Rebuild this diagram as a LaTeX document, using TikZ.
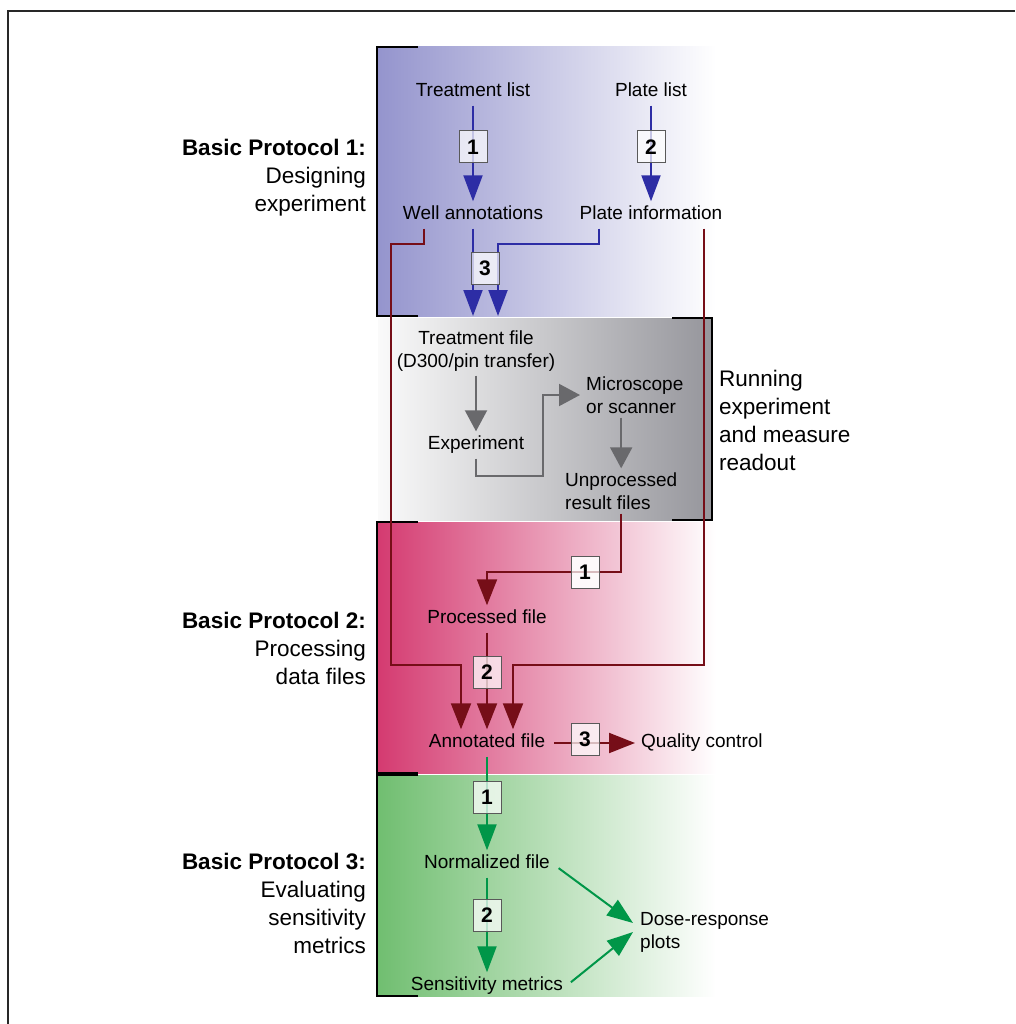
\documentclass[tikz,border=0pt]{standalone}
\usepackage{fontspec}
\setmainfont{Liberation Sans}
\usetikzlibrary{arrows.meta}
\definecolor{bluefill}{RGB}{148,148,205}
\definecolor{pinkfill}{RGB}{212,58,112}
\definecolor{greenfill}{RGB}{112,190,112}
\definecolor{grayfill}{RGB}{150,150,156}
\definecolor{grayleft}{RGB}{250,250,250}
\definecolor{bline}{RGB}{45,45,165}
\definecolor{rline}{RGB}{118,14,24}
\definecolor{gline}{RGB}{0,150,72}
\definecolor{kline}{RGB}{105,105,108}
\definecolor{frame}{RGB}{40,40,40}
\tikzset{
  txt/.style={font=\fontsize{19}{23}\selectfont, text height=14pt, text depth=5pt, inner ysep=4pt, inner xsep=3pt},
  mtxt/.style={font=\fontsize{19}{23}\selectfont, inner ysep=4pt, inner xsep=3pt},
  side/.style={font=\fontsize{22.5}{28}\selectfont, inner sep=0pt},
  numbox/.style={draw=gray!70!black, line width=1pt, fill=white, fill opacity=0.72, text opacity=1,
    minimum width=28pt, minimum height=32pt, inner sep=0pt, font=\fontsize{21}{21}\selectfont\bfseries},
  bracket/.style={line width=2.4pt, black},
  bl/.style={draw=bline, line width=2pt, -{Triangle[length=26pt,width=19pt,fill=bline]}},
  rl/.style={draw=rline, line width=2pt, -{Triangle[length=26pt,width=20pt,fill=rline]}},
  gl/.style={draw=gline, line width=2pt, -{Triangle[length=26pt,width=19pt,fill=gline]}},
  kl/.style={draw=kline, line width=2pt, -{Triangle[length=21pt,width=22pt,fill=kline]}},
}
\begin{document}
\begin{tikzpicture}[x=1pt,y=-1pt]
\useasboundingbox (0,0) rectangle (1015,1024);
% outer frame (open at right and bottom)
\draw[frame, line width=1.5pt] (8,1024) -- (8,11) -- (1015,11);

% panels
\shade[left color=bluefill, right color=white] (377,47) rectangle (716,316);
\shade[left color=grayleft, right color=grayfill] (378,318) rectangle (712,520);
\shade[left color=pinkfill, right color=white] (377,522) rectangle (716,773);
\shade[left color=greenfill, right color=white] (377,775) rectangle (716,996);

% brackets
\draw[bracket] (418,47) -- (377,47) -- (377,316) -- (418,316);
\draw[bracket] (672,318) -- (712,318) -- (712,520) -- (672,520);
\draw[bracket] (418,522) -- (377,522) -- (377,773) -- (418,773);
\draw[bracket] (418,775) -- (377,775) -- (377,996) -- (418,996);

% side labels
\node[side, anchor=east, align=right] (p1) at (366,178) {\textbf{Basic Protocol 1:}\\Designing\\experiment};
\node[side, anchor=west, align=left] (p2r) at (719,420) {Running\\experiment\\and measure\\readout};
\node[side, anchor=east, align=right] (p2) at (366,648) {\textbf{Basic Protocol 2:}\\Processing\\data files};
\node[side, anchor=east, align=right] (p3) at (366,903) {\textbf{Basic Protocol 3:}\\Evaluating\\sensitivity\\metrics};

% text nodes
\node[txt] (tl) at (473,92) {Treatment list};
\node[txt] (pl) at (651,92) {Plate list};
\node[txt] (wa) at (473,215) {Well annotations};
\node[txt] (pi) at (651,215) {Plate information};
\node[mtxt, align=center] (tf) at (476,351) {Treatment file\\(D300/pin transfer)};
\node[txt] (ex) at (476,445) {Experiment};
\node[mtxt, align=left, anchor=west] (ms) at (583,395) {Microscope\\or scanner};
\node[mtxt, align=left, anchor=west] (ur) at (562,491) {Unprocessed\\result files};
\node[txt] (pf) at (487,619) {Processed file};
\node[txt] (af) at (487,743) {Annotated file};
\node[txt, anchor=west] (qc) at (638,743) {Quality control};
\node[txt] (nf) at (487,864) {Normalized file};
\node[txt] (sm) at (487,986) {Sensitivity metrics};
\node[mtxt, align=left, anchor=west] (dr) at (637,932) {Dose-response\\plots};

% tip coordinates for Treatment file
\coordinate (t1) at (473,316);
\coordinate (t2) at (498,316);

% blue connectors
\draw[bl] (tl.south) -- (wa.north);
\draw[bl] (pl.south) -- (pi.north);
\draw[bl] (wa.south) -- (t1);
\draw[bl] ([xshift=-52pt]pi.south) -- ++(0,15) -| (t2);

% gray connectors
\draw[kl] (tf.south -| ex.north) -- (ex.north);
\draw[kl] (ex.south) -- ++(0,17) -| ([xshift=-40pt]ms.west) -- ([xshift=-3pt]ms.west);
\draw[kl] (ms.south -| ur.north) -- (ur.north);

% red connectors
\node[numbox] (r1) at (585,572) {1};
\draw[rl] (ur.south) -- (ur.south |- r1) -| (pf.north);
\draw[rl] ([xshift=-49pt]wa.south) -- ++(0,15) -| (391,665) -| ([xshift=-26pt]af.north);
\draw[rl] (pf.south) -- (af.north);
\draw[rl] ([xshift=53pt]pi.south) |- (513,665) -- ([xshift=26pt]af.north);
\draw[rl, shorten <=6pt] (af.east) -- ([xshift=-3pt]qc.west);

% green connectors
\draw[gl] (af.south) -- (nf.north);
\draw[gl] (nf.south) -- (sm.north);
\draw[gl, shorten <=7pt] (nf.east) -- ([xshift=-4pt,yshift=9pt]dr.west);
\draw[gl, shorten <=6pt] (sm.east) -- ([xshift=-4pt]dr.west);

% step boxes (drawn over the lines)
\node[numbox] (b11) at (473,147) {1};
\node[numbox] (b12) at (651,147) {2};
\node[numbox] (b13) at (485,268) {3};
\node[numbox] at (r1) {1};
\node[numbox] (r2) at (487,672) {2};
\node[numbox] (r3) at (585,739) {3};
\node[numbox] (g1) at (487,797) {1};
\node[numbox] (g2) at (487,915) {2};
\end{tikzpicture}
\end{document}
